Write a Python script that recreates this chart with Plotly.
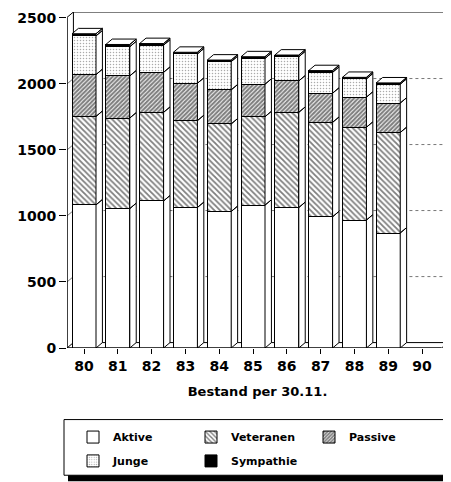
import plotly.graph_objects as go

# ---- data ----
years = ["80", "81", "82", "83", "84", "85", "86", "87", "88", "89", "90"]
aktive    = [1084, 1056, 1114, 1064, 1034, 1082, 1064, 994, 969, 871]
veteranen = [670, 686, 671, 658, 663, 670, 721, 715, 703, 761]
passive   = [317, 319, 303, 283, 258, 246, 238, 221, 228, 223]
junge     = [293, 221, 206, 222, 214, 195, 183, 158, 138, 143]
sympathie = [16, 17, 12, 13, 12, 13, 13, 13, 12, 10]
y_ticks = [0, 500, 1000, 1500, 2000, 2500]

# ---- layout geometry (page has an 8px body margin) ----
OFF = 8
W, H = 451 - OFF, 482 - OFF
L, R, T, B = 59, 3, 2, 134
PW, PH = W - L - R, H - T - B
XR = [-0.503, 10.769]
YR = [0, 2545]
BW = 0.71          # bar front width
DX, DY = 0.19, 41  # depth offset (data units)
FONT = "DejaVu Sans"

series = [
    ("Aktive", aktive, dict(shape="", fgcolor="black", bgcolor="white"), "legend"),
    ("Veteranen", veteranen, dict(shape="\\", fgcolor="black", bgcolor="white", size=4, solidity=0.45), "legend"),
    ("Passive", passive, dict(shape="/", fgcolor="black", bgcolor="white", size=3, solidity=0.7), "legend"),
    ("Junge", junge, dict(shape=".", fgcolor="#555", bgcolor="white", size=3, solidity=0.2), "legend2"),
    ("Sympathie", sympathie, dict(shape="", fgcolor="black", bgcolor="black"), "legend2"),
]

xs = list(range(len(aktive)))
fig = go.Figure()

for name, vals, pat, lg in series:
    color = "black" if name == "Sympathie" else "white"
    fig.add_trace(go.Bar(
        x=xs, y=vals, name=name, width=BW, legend=lg,
        marker=dict(color=color, line=dict(color="black", width=1), pattern=pat),
    ))

# 3D side and top faces computed from the stacked data
px_, py_ = [], []
for i in xs:
    base = 0
    xr = i + BW / 2
    for _, vals, _, _ in series:
        top = base + vals[i]
        px_ += [xr, xr + DX, xr + DX, xr, xr, None]
        py_ += [base, base + DY, top + DY, top, base, None]
        base = top
    xl = i - BW / 2
    px_ += [xl, xl + DX, xr + DX, xr, xl, None]
    py_ += [base, base + DY, base + DY, base, base, None]
fig.add_trace(go.Scatter(x=px_, y=py_, mode="lines", fill="toself", fillcolor="white",
                         line=dict(color="black", width=1), showlegend=False, hoverinfo="skip"))

shapes = []
wl = XR[0] + DX
# back wall
shapes.append(dict(type="rect", xref="x", yref="y", x0=wl, x1=XR[1], y0=DY, y1=YR[1],
                   line=dict(color="black", width=1), layer="below"))
# grid lines on back wall
for v in y_ticks[1:-1]:
    shapes.append(dict(type="line", xref="x", yref="y", x0=wl, x1=XR[1], y0=v + DY, y1=v + DY,
                       line=dict(color="#777", width=1, dash="dot"), layer="below"))
    shapes.append(dict(type="line", xref="x", yref="y", x0=XR[0], x1=wl, y0=v, y1=v + DY,
                       line=dict(color="#777", width=1), layer="below"))
# left wall / front axis
shapes.append(dict(type="line", xref="x", yref="y", x0=XR[0], x1=XR[0], y0=0, y1=YR[1] - DY,
                   line=dict(color="black", width=1.5)))
shapes.append(dict(type="line", xref="x", yref="y", x0=XR[0], x1=wl, y0=YR[1] - DY, y1=YR[1],
                   line=dict(color="black", width=1)))
shapes.append(dict(type="line", xref="x", yref="y", x0=XR[0], x1=wl, y0=0, y1=DY,
                   line=dict(color="black", width=1), layer="below"))
# floor
shapes.append(dict(type="line", xref="x", yref="y", x0=XR[0], x1=XR[1] - DX, y0=0, y1=0,
                   line=dict(color="black", width=1.5)))
shapes.append(dict(type="line", xref="x", yref="y", x0=XR[1] - DX, x1=XR[1], y0=0, y1=DY,
                   line=dict(color="black", width=1)))


# legend frame with shadow (reference-pixel -> paper coordinates)
def pxx(p):
    return (p - OFF - L) / PW


def pxy(p):
    return (T + PH - (p - OFF)) / PH


shapes.append(dict(type="rect", xref="paper", yref="paper", x0=pxx(68), x1=pxx(451), y0=pxy(482), y1=pxy(424),
                   fillcolor="black", line=dict(color="black", width=0)))
shapes.append(dict(type="rect", xref="paper", yref="paper", x0=pxx(64), x1=pxx(446), y0=pxy(476), y1=pxy(420),
                   fillcolor="white", line=dict(color="black", width=1)))

legend_common = dict(orientation="h", xanchor="left", yanchor="top", entrywidth=73, entrywidthmode="pixels",
                     bgcolor="rgba(0,0,0,0)", borderwidth=0, traceorder="normal",
                     font=dict(family=FONT, size=11, color="black", weight="bold"))

fig.update_layout(
    width=W, height=H, margin=dict(l=L, r=R, t=T, b=B, pad=0),
    paper_bgcolor="white", plot_bgcolor="white",
    barmode="stack", showlegend=True,
    font=dict(family=FONT, color="black", weight="bold"),
    xaxis=dict(range=XR, tickvals=list(range(len(years))), ticktext=years, showgrid=False, zeroline=False,
               showline=False, ticks="outside", ticklen=5, tickcolor="black",
               tickfont=dict(family=FONT, size=14, weight="bold"),
               title=dict(text="Bestand per 30.11.", font=dict(family=FONT, size=13, weight="bold"), standoff=14)),
    yaxis=dict(range=YR, tickvals=y_ticks, showgrid=False, zeroline=False, showline=False,
               ticks="outside", ticklen=7, tickcolor="black", ticklabeloverflow="allow",
               tickfont=dict(family=FONT, size=14, weight="bold")),
    legend=dict(x=pxx(73), y=pxy(423), **legend_common),
    legend2=dict(x=pxx(73), y=pxy(447), **legend_common),
    shapes=shapes,
)

fig.write_html("out.html")
